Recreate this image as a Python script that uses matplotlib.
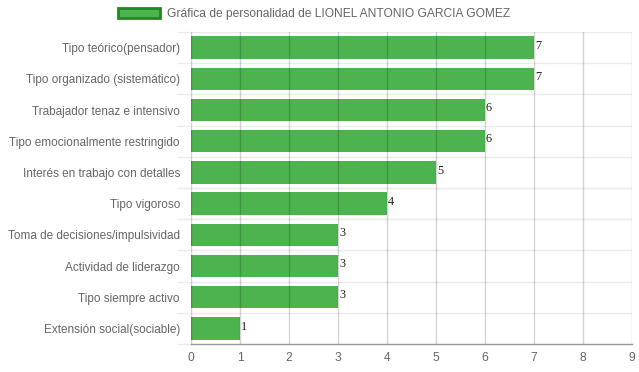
import matplotlib
matplotlib.use("Agg")
import matplotlib.pyplot as plt
from matplotlib.patches import Patch
from matplotlib.ticker import FixedLocator

categories = [
    "Tipo teórico(pensador)",
    "Tipo organizado (sistemático)",
    "Trabajador tenaz e intensivo",
    "Tipo emocionalmente restringido",
    "Interés en trabajo con detalles",
    "Tipo vigoroso",
    "Toma de decisiones/impulsividad",
    "Actividad de liderazgo",
    "Tipo siempre activo",
    "Extensión social(sociable)",
]
values = [7, 7, 6, 6, 5, 4, 3, 3, 3, 1]
series_label = "Gráfica de personalidad de LIONEL ANTONIO GARCIA GOMEZ"
x_ticks = list(range(0, 10))

plt.rcParams['font.family'] = ['Liberation Sans', 'DejaVu Sans']
fs = 12 * 72 / 100

fig = plt.figure(figsize=(6.39, 3.72), dpi=100)
ax = fig.add_axes([191/639, 1-344/372, (632-191)/639, 312/372])

n = len(categories)
ypos = list(range(n))
ax.barh(ypos, values, height=0.72, color='#4CB34F', zorder=2)
for y, v in zip(ypos, values):
    ax.text(v + 0.02, y - 0.06, str(v), family='Liberation Serif', fontsize=fs * 1.02,
            color='#222222', va='center', ha='left', zorder=4)

ax.set_ylim(n - 0.5, -0.5)
ax.set_xlim(0, 9)
ax.set_xticks(x_ticks)
ax.set_yticks(ypos)
ax.set_yticklabels(categories)
ax.yaxis.set_minor_locator(FixedLocator([i - 0.5 for i in range(n + 1)]))

# gridlines
for xv in x_ticks:
    ax.axvline(xv, color='black', alpha=0.17, lw=1, zorder=3)
for yb in [i - 0.5 for i in range(n)]:
    ax.axhline(yb, color='#ebebeb', lw=1, zorder=1)

ax.tick_params(axis='y', which='major', length=0, pad=8, labelsize=fs * 0.985, labelcolor='#666666')
ax.tick_params(axis='y', which='minor', length=10, color='#ebebeb', width=1)
ax.tick_params(axis='x', which='major', length=0, pad=6, labelsize=fs, labelcolor='#666666')

for s in ['top', 'right', 'left']:
    ax.spines[s].set_visible(False)
ax.spines['bottom'].set_color('#999999')
ax.spines['bottom'].set_linewidth(1)

handle = Patch(facecolor='#4CB34F', edgecolor='#1E8A22', linewidth=2)
fig.legend([handle], [series_label], loc='center', bbox_to_anchor=(0.5 - 5.5/639, 1-14/372),
           frameon=False, fontsize=fs, handlelength=3.5, handleheight=0.95,
           handletextpad=0.55, labelcolor='#666666')

fig.savefig("out.png", dpi=100)
